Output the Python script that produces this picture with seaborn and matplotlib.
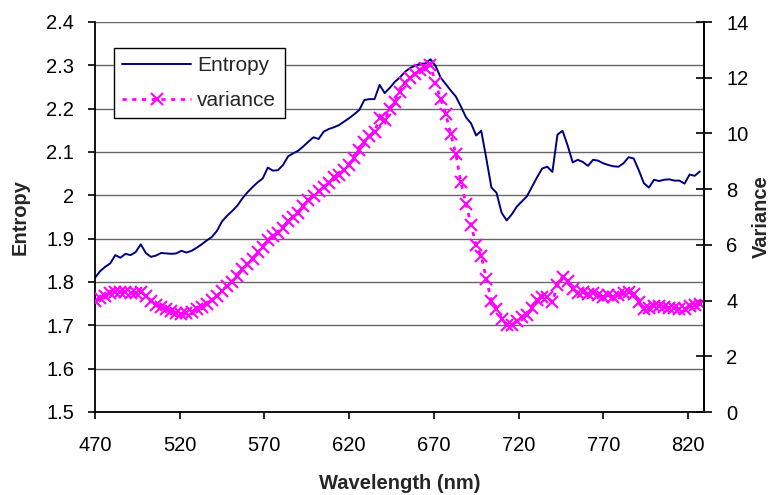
import matplotlib
matplotlib.use("Agg")
import matplotlib.pyplot as plt
import seaborn as sns
import pandas as pd

wavelengths = [
    470, 473, 476, 479, 482, 485, 488, 491, 494, 497,
    500, 503, 506, 509, 512, 515, 518, 521, 524, 527,
    530, 533, 536, 539, 542, 545, 548, 551, 554, 557,
    560, 563, 566, 569, 572, 575, 578, 581, 584, 587,
    590, 593, 596, 599, 602, 605, 608, 611, 614, 617,
    620, 623, 626, 629, 632, 635, 638, 641, 644, 647,
    650, 653, 656, 659, 662, 665, 668, 671, 674, 677,
    680, 683, 686, 689, 692, 695, 698, 701, 704, 707,
    710, 713, 716, 719, 722, 725, 728, 731, 734, 737,
    740, 743, 746, 749, 752, 755, 758, 761, 764, 767,
    770, 773, 776, 779, 782, 785, 788, 791, 794, 797,
    800, 803, 806, 809, 812, 815, 818, 821, 824, 827,
]

entropy = [
    1.810, 1.825, 1.835, 1.843, 1.862, 1.856, 1.865, 1.862, 1.869, 1.887,
    1.867, 1.858, 1.861, 1.867, 1.866, 1.865, 1.866, 1.872, 1.868, 1.872,
    1.879, 1.887, 1.896, 1.904, 1.918, 1.940, 1.953, 1.964, 1.976, 1.993,
    2.007, 2.019, 2.030, 2.039, 2.064, 2.057, 2.058, 2.070, 2.090, 2.097,
    2.103, 2.113, 2.124, 2.134, 2.130, 2.147, 2.153, 2.157, 2.162, 2.170,
    2.178, 2.187, 2.197, 2.220, 2.222, 2.222, 2.255, 2.236, 2.248, 2.262,
    2.272, 2.285, 2.294, 2.299, 2.304, 2.304, 2.314, 2.299, 2.272, 2.257,
    2.242, 2.228, 2.205, 2.180, 2.166, 2.138, 2.149, 2.085, 2.018, 2.006,
    1.960, 1.942, 1.956, 1.974, 1.986, 1.998, 2.020, 2.042, 2.062, 2.066,
    2.054, 2.140, 2.149, 2.115, 2.076, 2.082, 2.077, 2.068, 2.082, 2.080,
    2.074, 2.070, 2.067, 2.066, 2.074, 2.088, 2.085, 2.058, 2.028, 2.018,
    2.036, 2.033, 2.036, 2.037, 2.034, 2.034, 2.027, 2.048, 2.045, 2.055,
]

variance = [
    3.98, 4.08, 4.17, 4.26, 4.32, 4.30, 4.32, 4.27, 4.28, 4.32,
    4.18, 3.98, 3.84, 3.76, 3.70, 3.61, 3.56, 3.53, 3.55, 3.60,
    3.69, 3.78, 3.89, 4.03, 4.15, 4.36, 4.53, 4.67, 4.90, 5.12,
    5.31, 5.50, 5.73, 5.91, 6.18, 6.33, 6.42, 6.62, 6.86, 7.00,
    7.13, 7.38, 7.61, 7.77, 7.92, 8.08, 8.22, 8.43, 8.50, 8.70,
    8.88, 9.12, 9.40, 9.69, 9.90, 10.06, 10.54, 10.48, 10.88, 11.13,
    11.50, 11.82, 12.00, 12.15, 12.28, 12.36, 12.46, 11.80, 11.24, 10.70,
    9.97, 9.26, 8.24, 7.47, 6.72, 5.98, 5.60, 4.78, 3.98, 3.70,
    3.35, 3.11, 3.14, 3.26, 3.40, 3.50, 3.74, 4.02, 4.14, 4.12,
    3.95, 4.55, 4.86, 4.70, 4.42, 4.28, 4.30, 4.22, 4.28, 4.20,
    4.14, 4.20, 4.14, 4.20, 4.26, 4.32, 4.24, 3.94, 3.68, 3.72,
    3.82, 3.80, 3.78, 3.74, 3.72, 3.68, 3.70, 3.80, 3.84, 3.88,
]

x_ticks = [470, 520, 570, 620, 670, 720, 770, 820]
left_ticks = [1.5, 1.6, 1.7, 1.8, 1.9, 2.0, 2.1, 2.2, 2.3, 2.4]
left_labels = ["1.5", "1.6", "1.7", "1.8", "1.9", "2", "2.1", "2.2", "2.3", "2.4"]
right_ticks = [0, 2, 4, 6, 8, 10, 12, 14]

df = pd.DataFrame({"Wavelength": wavelengths, "Entropy": entropy, "Variance": variance})

sns.set_theme(style="white")
plt.rcParams["font.family"] = ["Liberation Sans", "DejaVu Sans"]

fig = plt.figure(figsize=(7.72, 4.95), dpi=100)
ax = fig.add_axes([95 / 772, 83 / 495, 609 / 772, 390 / 495])
ax2 = ax.twinx()

sns.lineplot(data=df, x="Wavelength", y="Entropy", ax=ax, color="#000080",
             linewidth=1.4, label="Entropy", legend=False)
sns.lineplot(data=df, x="Wavelength", y="Variance", ax=ax2, color="#FF00FF",
             linewidth=2.0, marker="x", markersize=8.5, markeredgewidth=1.5,
             markeredgecolor="#FF00FF", markerfacecolor="#FF00FF",
             label="variance", legend=False)
vline = ax2.lines[0]
vline.set_linestyle((0, (1.5, 2.0)))
vline.set_markeredgecolor("#FF00FF")

ax.set_xlim(470, 829.5)
ax.set_ylim(1.5, 2.4)
ax2.set_ylim(0, 14)
ax.set_xticks(x_ticks)
ax.set_xticklabels([str(t) for t in x_ticks])
ax.set_yticks(left_ticks)
ax.set_yticklabels(left_labels)
ax2.set_yticks(right_ticks)
ax2.set_yticklabels([str(t) for t in right_ticks])

ax.grid(False)
ax2.grid(False)
for t in left_ticks:
    ax.axhline(t, color="#666666", linewidth=1.0, zorder=0.5)

for a in (ax, ax2):
    a.spines["top"].set_visible(False)
    for s in ("left", "right", "bottom"):
        a.spines[s].set_color("black")
        a.spines[s].set_linewidth(1.3)
ax2.spines["left"].set_visible(False)
ax2.spines["bottom"].set_visible(False)

ax.tick_params(axis="both", which="major", labelsize=14.5, colors="black",
               direction="out", length=5, width=1.2)
ax.tick_params(axis="y", pad=10)
ax.tick_params(axis="x", pad=12, bottom=True)
ax.tick_params(axis="y", left=True)
ax2.tick_params(axis="y", labelsize=14.5, colors="black", direction="inout",
                length=12, width=1.2, pad=10, right=True)

ax.set_xlabel("Wavelength (nm)", fontsize=14.5, fontweight="bold", labelpad=14)
ax.set_ylabel("Entropy", fontsize=14.5, fontweight="bold", labelpad=12)
ax2.set_ylabel("Variance", fontsize=14.5, fontweight="bold", labelpad=2, rotation=90)

handles = [ax.lines[0], vline]
labels = ["Entropy", "variance"]
leg = ax2.legend(handles, labels, loc="upper left",
                 bbox_to_anchor=(114 / 772, 1 - 48 / 495), bbox_transform=fig.transFigure,
                 fontsize=15, frameon=True, fancybox=False, framealpha=1,
                 edgecolor="black", handlelength=3.3, handletextpad=0.3,
                 labelspacing=0.75, borderpad=0.4, borderaxespad=0, numpoints=1)
leg.get_frame().set_linewidth(1.0)

fig.savefig("out.png", dpi=100)
